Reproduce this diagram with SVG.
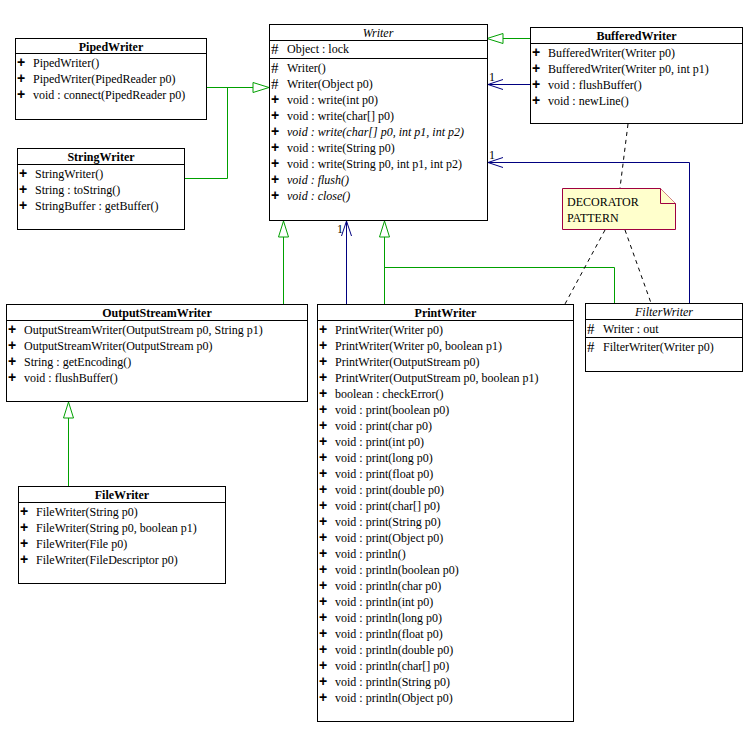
<svg xmlns="http://www.w3.org/2000/svg" width="747" height="740" viewBox="0 0 747 740">
<style>
.t{font-family:"Liberation Serif","Times New Roman",serif;font-size:12px;fill:#000}
.tb{font-weight:bold}
.ti{font-style:italic}
.pm{font-family:"Liberation Sans",Arial,sans-serif;font-size:14px;font-weight:bold;fill:#000}
.hs{font-family:"Liberation Serif","Times New Roman",serif;font-size:15px;fill:#000}
.box{fill:#fff;stroke:#000;stroke-width:1}
.sep{stroke:#000;stroke-width:1}
.gen{fill:none;stroke:#00A000;stroke-width:1}
.genh{fill:#fff;stroke:#00A000;stroke-width:1}
.asc{fill:none;stroke:#000080;stroke-width:1}
.dash{fill:none;stroke:#000;stroke-width:1;stroke-dasharray:4,4}
.note{fill:#FFFFCC;stroke:#A00040;stroke-width:1}
</style>
<rect width="747" height="740" fill="#fff"/>
<g id="connectors">
<polyline class="gen" points="206,87.5 253,87.5"/>
<polyline class="gen" points="184,178.5 227.5,178.5 227.5,87.5"/>
<polygon class="genh" points="269,87.5 253,82.5 253,92.5"/>
<polyline class="gen" points="530,38.5 503,38.5"/>
<polygon class="genh" points="487,38.5 503,33.5 503,43.5"/>
<polyline class="gen" points="283.5,304 283.5,236"/>
<polygon class="genh" points="283.5,221 278.5,237 288.5,237"/>
<polyline class="gen" points="384.5,304 384.5,236"/>
<polyline class="gen" points="614.5,303 614.5,267.5 384.5,267.5"/>
<polygon class="genh" points="384.5,221 379.5,237 389.5,237"/>
<polyline class="gen" points="68.5,486 68.5,417"/>
<polygon class="genh" points="68.5,402 63.5,418 73.5,418"/>
<polyline class="asc" points="530,84.5 488,84.5"/>
<polyline class="asc" points="503,79.5 488,84.5 503,89.5"/>
<text class="t" x="489" y="81">1</text>
<polyline class="asc" points="689.5,303 689.5,162.5 488,162.5"/>
<polyline class="asc" points="503,157.5 488,162.5 503,167.5"/>
<text class="t" x="489" y="159">1</text>
<polyline class="asc" points="346.5,304 346.5,221"/>
<polyline class="asc" points="341.5,236 346.5,221 351.5,236"/>
<text class="t" x="337" y="233">1</text>
<line class="dash" x1="628" y1="124" x2="620" y2="188"/>
<line class="dash" x1="605" y1="230" x2="565" y2="304"/>
<line class="dash" x1="625" y1="230" x2="651" y2="303"/>
</g>
<g id="Writer">
<rect class="box" x="269.5" y="24.5" width="218" height="196"/>
<line class="sep" x1="269.5" y1="40.5" x2="487.5" y2="40.5"/>
<line class="sep" x1="269.5" y1="58.5" x2="487.5" y2="58.5"/>
<text class="t ti" x="378" y="37" text-anchor="middle">Writer</text>
<text class="hs" x="271" y="54">#</text><text class="t" x="287" y="53">Object : lock</text>
<text class="hs" x="271" y="73">#</text><text class="t" x="287" y="72">Writer()</text>
<text class="hs" x="271" y="89">#</text><text class="t" x="287" y="88">Writer(Object p0)</text>
<text class="pm" x="271" y="104">+</text><text class="t" x="287" y="104">void : write(int p0)</text>
<text class="pm" x="271" y="120">+</text><text class="t" x="287" y="120">void : write(char[] p0)</text>
<text class="pm" x="271" y="136">+</text><text class="t ti" x="287" y="136">void : write(char[] p0, int p1, int p2)</text>
<text class="pm" x="271" y="152">+</text><text class="t" x="287" y="152">void : write(String p0)</text>
<text class="pm" x="271" y="168">+</text><text class="t" x="287" y="168">void : write(String p0, int p1, int p2)</text>
<text class="pm" x="271" y="184">+</text><text class="t ti" x="287" y="184">void : flush()</text>
<text class="pm" x="271" y="200">+</text><text class="t ti" x="287" y="200">void : close()</text>
</g>
<g id="BufferedWriter">
<rect class="box" x="530.5" y="27.5" width="212" height="96"/>
<line class="sep" x1="530.5" y1="43.5" x2="742.5" y2="43.5"/>
<text class="t tb" x="636.5" y="40" text-anchor="middle">BufferedWriter</text>
<text class="pm" x="532" y="57">+</text><text class="t" x="548" y="57">BufferedWriter(Writer p0)</text>
<text class="pm" x="532" y="73">+</text><text class="t" x="548" y="73">BufferedWriter(Writer p0, int p1)</text>
<text class="pm" x="532" y="89">+</text><text class="t" x="548" y="89">void : flushBuffer()</text>
<text class="pm" x="532" y="105">+</text><text class="t" x="548" y="105">void : newLine()</text>
</g>
<g id="PipedWriter">
<rect class="box" x="15.5" y="38.5" width="191" height="81"/>
<line class="sep" x1="15.5" y1="53.5" x2="206.5" y2="53.5"/>
<text class="t tb" x="111" y="51" text-anchor="middle">PipedWriter</text>
<text class="pm" x="17" y="67">+</text><text class="t" x="33" y="67">PipedWriter()</text>
<text class="pm" x="17" y="83">+</text><text class="t" x="33" y="83">PipedWriter(PipedReader p0)</text>
<text class="pm" x="17" y="99">+</text><text class="t" x="33" y="99">void : connect(PipedReader p0)</text>
</g>
<g id="StringWriter">
<rect class="box" x="17.5" y="148.5" width="167" height="81"/>
<line class="sep" x1="17.5" y1="164.5" x2="184.5" y2="164.5"/>
<text class="t tb" x="101" y="161" text-anchor="middle">StringWriter</text>
<text class="pm" x="19" y="178">+</text><text class="t" x="35" y="178">StringWriter()</text>
<text class="pm" x="19" y="194">+</text><text class="t" x="35" y="194">String : toString()</text>
<text class="pm" x="19" y="210">+</text><text class="t" x="35" y="210">StringBuffer : getBuffer()</text>
</g>
<g id="OutputStreamWriter">
<rect class="box" x="6.5" y="304.5" width="301" height="97"/>
<line class="sep" x1="6.5" y1="320.5" x2="307.5" y2="320.5"/>
<text class="t tb" x="157" y="317" text-anchor="middle">OutputStreamWriter</text>
<text class="pm" x="8" y="334">+</text><text class="t" x="24" y="334">OutputStreamWriter(OutputStream p0, String p1)</text>
<text class="pm" x="8" y="350">+</text><text class="t" x="24" y="350">OutputStreamWriter(OutputStream p0)</text>
<text class="pm" x="8" y="366">+</text><text class="t" x="24" y="366">String : getEncoding()</text>
<text class="pm" x="8" y="382">+</text><text class="t" x="24" y="382">void : flushBuffer()</text>
</g>
<g id="FileWriter">
<rect class="box" x="18.5" y="486.5" width="207" height="97"/>
<line class="sep" x1="18.5" y1="502.5" x2="225.5" y2="502.5"/>
<text class="t tb" x="122" y="499" text-anchor="middle">FileWriter</text>
<text class="pm" x="20" y="516">+</text><text class="t" x="36" y="516">FileWriter(String p0)</text>
<text class="pm" x="20" y="532">+</text><text class="t" x="36" y="532">FileWriter(String p0, boolean p1)</text>
<text class="pm" x="20" y="548">+</text><text class="t" x="36" y="548">FileWriter(File p0)</text>
<text class="pm" x="20" y="564">+</text><text class="t" x="36" y="564">FileWriter(FileDescriptor p0)</text>
</g>
<g id="PrintWriter">
<rect class="box" x="317.5" y="304.5" width="256" height="417"/>
<line class="sep" x1="317.5" y1="320.5" x2="573.5" y2="320.5"/>
<text class="t tb" x="445.5" y="317" text-anchor="middle">PrintWriter</text>
<text class="pm" x="319" y="334">+</text><text class="t" x="335" y="334">PrintWriter(Writer p0)</text>
<text class="pm" x="319" y="350">+</text><text class="t" x="335" y="350">PrintWriter(Writer p0, boolean p1)</text>
<text class="pm" x="319" y="366">+</text><text class="t" x="335" y="366">PrintWriter(OutputStream p0)</text>
<text class="pm" x="319" y="382">+</text><text class="t" x="335" y="382">PrintWriter(OutputStream p0, boolean p1)</text>
<text class="pm" x="319" y="398">+</text><text class="t" x="335" y="398">boolean : checkError()</text>
<text class="pm" x="319" y="414">+</text><text class="t" x="335" y="414">void : print(boolean p0)</text>
<text class="pm" x="319" y="430">+</text><text class="t" x="335" y="430">void : print(char p0)</text>
<text class="pm" x="319" y="446">+</text><text class="t" x="335" y="446">void : print(int p0)</text>
<text class="pm" x="319" y="462">+</text><text class="t" x="335" y="462">void : print(long p0)</text>
<text class="pm" x="319" y="478">+</text><text class="t" x="335" y="478">void : print(float p0)</text>
<text class="pm" x="319" y="494">+</text><text class="t" x="335" y="494">void : print(double p0)</text>
<text class="pm" x="319" y="510">+</text><text class="t" x="335" y="510">void : print(char[] p0)</text>
<text class="pm" x="319" y="526">+</text><text class="t" x="335" y="526">void : print(String p0)</text>
<text class="pm" x="319" y="542">+</text><text class="t" x="335" y="542">void : print(Object p0)</text>
<text class="pm" x="319" y="558">+</text><text class="t" x="335" y="558">void : println()</text>
<text class="pm" x="319" y="574">+</text><text class="t" x="335" y="574">void : println(boolean p0)</text>
<text class="pm" x="319" y="590">+</text><text class="t" x="335" y="590">void : println(char p0)</text>
<text class="pm" x="319" y="606">+</text><text class="t" x="335" y="606">void : println(int p0)</text>
<text class="pm" x="319" y="622">+</text><text class="t" x="335" y="622">void : println(long p0)</text>
<text class="pm" x="319" y="638">+</text><text class="t" x="335" y="638">void : println(float p0)</text>
<text class="pm" x="319" y="654">+</text><text class="t" x="335" y="654">void : println(double p0)</text>
<text class="pm" x="319" y="670">+</text><text class="t" x="335" y="670">void : println(char[] p0)</text>
<text class="pm" x="319" y="686">+</text><text class="t" x="335" y="686">void : println(String p0)</text>
<text class="pm" x="319" y="702">+</text><text class="t" x="335" y="702">void : println(Object p0)</text>
</g>
<g id="FilterWriter">
<rect class="box" x="585.5" y="303.5" width="157" height="68"/>
<line class="sep" x1="585.5" y1="319.5" x2="742.5" y2="319.5"/>
<line class="sep" x1="585.5" y1="337.5" x2="742.5" y2="337.5"/>
<text class="t ti" x="664" y="316" text-anchor="middle">FilterWriter</text>
<text class="hs" x="587" y="334">#</text><text class="t" x="603" y="333">Writer : out</text>
<text class="hs" x="587" y="352">#</text><text class="t" x="603" y="351">FilterWriter(Writer p0)</text>
</g>
<g id="DecoratorNote">
<polygon class="note" points="562.5,188.5 660.5,188.5 675.5,203.5 675.5,229.5 562.5,229.5"/>
<polyline class="note" points="660.5,188.5 660.5,203.5 675.5,203.5" fill="none"/>
<text class="t" x="567" y="206">DECORATOR</text>
<text class="t" x="567" y="222">PATTERN</text>
</g>
</svg>
